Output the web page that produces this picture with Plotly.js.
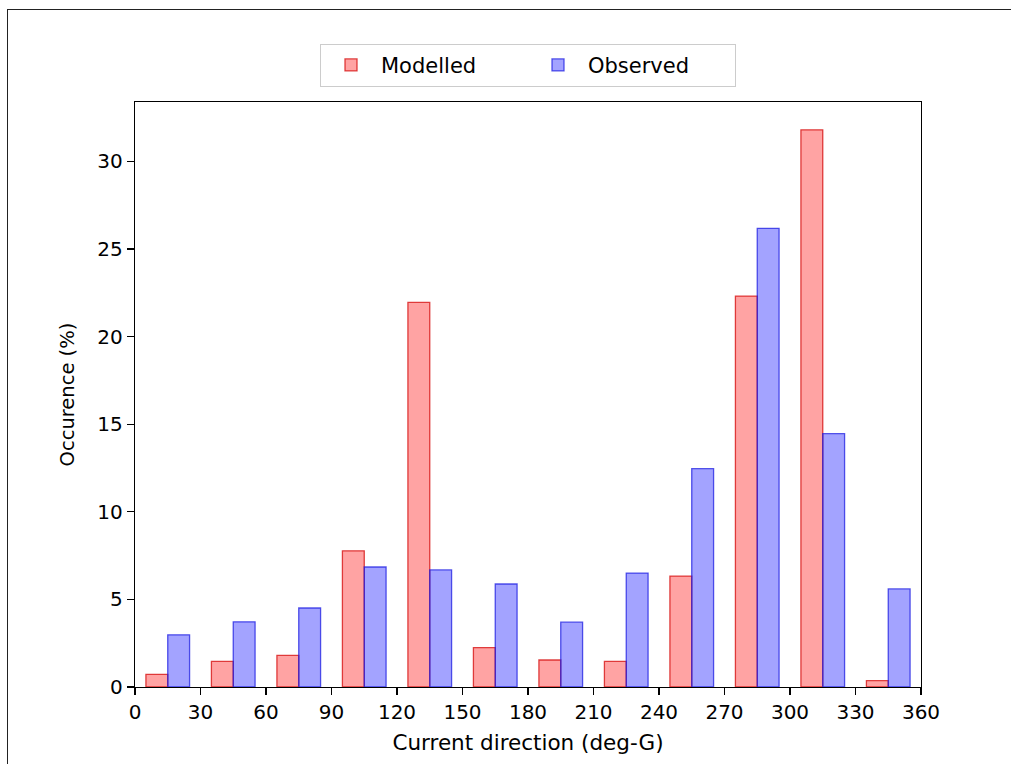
<!DOCTYPE html>
<html>
<head>
<meta charset="utf-8">
<script src="https://cdn.plot.ly/plotly-3.0.1.min.js"></script>
<style>
  html, body { margin: 0; padding: 0; background: #fff; overflow: hidden; }
  #wrap { position: relative; width: 1011px; height: 764px; }
  #chart { width: 1011px; height: 764px; }
  #frame { position: absolute; left: 7px; top: 9px; width: 1100px; height: 900px;
           border-left: 1.5px solid #222; border-top: 1.5px solid #222; pointer-events: none; }
</style>
</head>
<body>
<div id="wrap">
  <div id="chart"></div>
  <div id="frame"></div>
</div>
<script>
// Bin starts (deg), 30-degree bins
const binStarts = [0, 30, 60, 90, 120, 150, 180, 210, 240, 270, 300, 330];
const modelled = [0.72, 1.46, 1.80, 7.77, 21.95, 2.25, 1.54, 1.46, 6.33, 22.31, 31.8, 0.36];
const observed = [2.98, 3.72, 4.51, 6.85, 6.68, 5.88, 3.70, 6.50, 12.46, 26.18, 14.46, 5.60];
const xTicks = [0, 30, 60, 90, 120, 150, 180, 210, 240, 270, 300, 330, 360];
const yTicks = [0, 5, 10, 15, 20, 25, 30];

const barW = 10;
const FONT = 'DejaVu Sans, sans-serif';

const traces = [
  {
    type: 'bar', name: 'Modelled',
    x: binStarts.map(b => b + 10), y: modelled, width: barW,
    marker: { color: 'rgba(255,0,0,0.36)', line: { color: 'rgba(215,20,20,0.8)', width: 1.3 } }
  },
  {
    type: 'bar', name: 'Observed',
    x: binStarts.map(b => b + 20), y: observed, width: barW,
    marker: { color: 'rgba(0,0,255,0.36)', line: { color: 'rgba(30,30,225,0.75)', width: 1.3 } }
  }
];

const layout = {
  width: 1011, height: 764,
  margin: { l: 135, r: 90, t: 102, b: 77 },
  paper_bgcolor: '#fff', plot_bgcolor: '#fff',
  barmode: 'overlay',
  showlegend: true,
  font: { family: FONT, size: 20, color: '#000' },
  legend: {
    orientation: 'h', x: 0.5, xanchor: 'center', y: 1.026, yanchor: 'bottom',
    bordercolor: '#ccc', borderwidth: 1, bgcolor: '#fff',
    entrywidth: 142, entrywidthmode: 'pixels', itemwidth: 50,
    font: { family: FONT, size: 21, color: '#000' }
  },
  xaxis: {
    range: [0, 360], tickvals: xTicks, ticktext: xTicks.map(String),
    showgrid: false, zeroline: false, showline: true, mirror: true,
    linecolor: '#000', linewidth: 1.2, ticks: 'outside', ticklen: 7, tickwidth: 1.2, tickcolor: '#000',
    tickfont: { family: FONT, size: 20 },
    title: { text: 'Current direction (deg-G)', font: { family: FONT, size: 21.5 }, standoff: 11 }
  },
  yaxis: {
    range: [0, 33.39], tickvals: yTicks, ticktext: yTicks.map(String),
    showgrid: false, zeroline: false, showline: true, mirror: true,
    linecolor: '#000', linewidth: 1.2, ticks: 'outside', ticklen: 7, tickwidth: 1.2, tickcolor: '#000',
    tickfont: { family: FONT, size: 20 },
    title: { text: 'Occurence (%)', font: { family: FONT, size: 19.5 }, standoff: 17 }
  }
};

Plotly.newPlot('chart', traces, layout, { displayModeBar: false, staticPlot: true });
</script>
</body>
</html>
